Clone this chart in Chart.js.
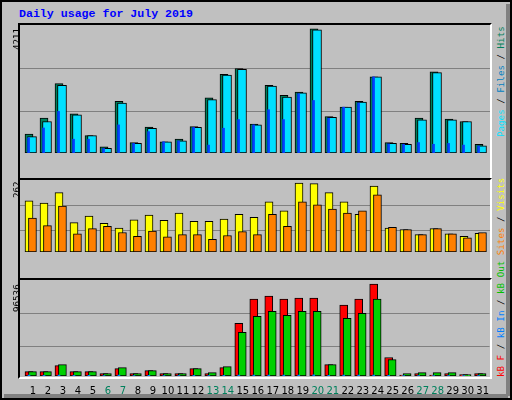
<!DOCTYPE html>
<html><head><meta charset="utf-8">
<script src="https://cdn.jsdelivr.net/npm/chart.js@4.4.0/dist/chart.umd.min.js"></script>
<style>
html,body{margin:0;padding:0;background:#fff;}
#wrap{position:relative;width:512px;height:400px;overflow:hidden;background:#C0C0C0;box-shadow:inset 0 0 0 2px #000;}
.abs{position:absolute;}
canvas{position:absolute;}
.frame{position:absolute;box-sizing:border-box;border-top:2px solid #000;border-left:2px solid #000;border-right:2px solid #fff;border-bottom:2px solid #fff;}
.rot{position:absolute;white-space:nowrap;transform:rotate(-90deg);transform-origin:left top;font-family:"DejaVu Sans Mono",monospace;font-size:9.2px;line-height:9px;}
#title{left:19px;top:7px;font-family:"Liberation Mono",monospace;font-weight:bold;font-size:11.6px;color:#0000FF;}
</style></head><body>
<div id="wrap">
<div class="abs" style="right:2px;top:4px;width:4px;height:392px;background:#808080"></div>
<div class="abs" style="left:4px;bottom:2px;width:504px;height:4px;background:#808080"></div>
<div class="abs" id="title">Daily usage for July 2019</div>
<div class="frame" style="left:18px;top:23px;width:474px;height:157px"></div>
<div class="frame" style="left:18px;top:178px;width:474px;height:102px"></div>
<div class="frame" style="left:18px;top:278px;width:474px;height:101px"></div>
<canvas id="c1" width="470" height="152" style="left:20px;top:25px"></canvas>
<canvas id="c2" width="470" height="96" style="left:20px;top:180px"></canvas>
<canvas id="c3" width="470" height="120" style="left:20px;top:280px"></canvas>
<div class="rot" style="left:12px;top:50px">4211</div>
<div class="rot" style="left:12px;top:198px">262</div>
<div class="rot" style="left:12px;top:312px">96536</div>
<div class="rot" style="left:496px;top:137px"><span style="color:#00E0FF">Pages</span> / <span style="color:#0080C0">Files</span> / <span style="color:#00805C">Hits</span></div>
<div class="rot" style="left:496px;top:377px"><span style="color:#FF0000">kB F</span> / <span style="color:#0080FF">kB In</span> / <span style="color:#00C000">kB Out</span> <span style="color:#FF8000">Sites</span> / <span style="color:#FFFF00">Visits</span></div>
</div>
<script>
const days=[1,2,3,4,5,6,7,8,9,10,11,12,13,14,15,16,17,18,19,20,21,22,23,24,25,26,27,28,29,30,31];
const weekend=[6,7,13,14,20,21,27,28];
const hits=[620,1147,2283,1285,573,205,1700,343,850,370,454,870,1811,2587,2781,953,2227,1895,2005,4083,1202,1507,1700,2504,343,315,1147,2670,1119,1036,287];
const files=[537,1036,2227,1257,573,150,1645,315,815,370,400,842,1756,2560,2753,925,2200,1839,1978,4055,1174,1507,1673,2504,315,287,1091,2642,1091,1036,232];
const pages=[500,823,1368,454,454,150,925,315,703,370,400,842,260,815,1100,925,1424,1100,1950,1728,1147,1507,1645,2504,300,287,343,287,315,260,232];
const visits=[186,178,216,107,131,104,87,117,134,115,142,112,112,120,137,126,183,150,251,249,216,183,137,240,87,82,63,85,66,57,68];
const sites=[123,96,167,66,85,93,71,57,76,55,63,63,46,60,74,63,137,93,183,172,156,142,150,208,90,82,63,85,66,52,71];
const kbF=[4388,4388,10460,4388,4388,2362,7425,2362,5400,2362,2362,7425,2362,8437,52990,77287,80325,77287,78300,78300,11475,71212,77287,92475,18562,1000,2362,1000,2362,1350,2362];
const kbOut=[4388,4388,11475,4388,4388,2362,8437,2362,5400,2362,2362,7425,3375,9450,43875,60075,65137,61087,65137,65137,11475,58050,63112,77287,16537,2362,3375,3375,3375,1350,2362];
const kbIn=[900,700,900,700,700,500,900,500,700,500,500,700,500,700,900,900,900,900,900,1200,700,900,900,900,700,300,300,300,300,300,300];
const maxes=[4211,262,96536];

const pts=(arr,off)=>arr.map((v,i)=>({x:days[i]+off,y:v}));
const gridPlugin={id:'g',beforeDatasetsDraw(ch,a,o){const c=ch.ctx,y=ch.scales.y,ar=ch.chartArea;c.save();c.strokeStyle='#808080';c.lineWidth=1;(o.fr||[]).forEach(f=>{const p=Math.round(y.getPixelForValue(y.max*f))+0.5;c.beginPath();c.moveTo(ar.left,p);c.lineTo(ar.right,p);c.stroke();});c.restore();}};
function ds(data,color,th,bw,order){return {data,order,backgroundColor:color,borderColor:'#000',borderWidth:bw,barThickness:th,grouped:false,borderSkipped:false};}
function make(id,max,datasets,fr,showX){
  return new Chart(document.getElementById(id),{type:'bar',data:{datasets},plugins:[gridPlugin],
  options:{responsive:false,animation:false,devicePixelRatio:1,layout:{padding:0},
   plugins:{legend:{display:false},tooltip:{enabled:false},g:{fr}},
   scales:{
    x:{type:'linear',min:0.4,max:31.733,offset:false,display:showX,grid:{display:false},border:{display:false},
       afterBuildTicks:s=>{s.ticks=days.map(d=>({value:d+0.27}));},
       afterFit:s=>{s.height=24;},
       ticks:{autoSkip:false,maxRotation:0,padding:1,font:{family:'DejaVu Sans',size:10},
         callback:(v,i)=>String(days[i]),
         color:c=>weekend.includes(days[c.index])?'#00805C':'#000'}},
    y:{display:false,min:0,max}}}});
}
make('c1',maxes[0],[ds(pts(hits,0),'#00805C',8,1,3),ds(pts(files,0.2),'#00E0FF',9,1,2),ds(pts(pages,-0.03),'#0040FF',2,0,1)],[0.33,0.664],false);
make('c2',maxes[1],[ds(pts(visits,0),'#FFFF00',8,1,2),ds(pts(sites,0.23),'#FF8000',8,1,1)],[0.3125,0.656],false);
make('c3',maxes[2],[ds(pts(kbF,0),'#FF0000',8,1,3),ds(pts(kbOut,0.23),'#00D000',8,1,2),ds(pts(kbIn,0),'#0080FF',2,0,1)],[0.308,0.654],true);
</script>
</body></html>
